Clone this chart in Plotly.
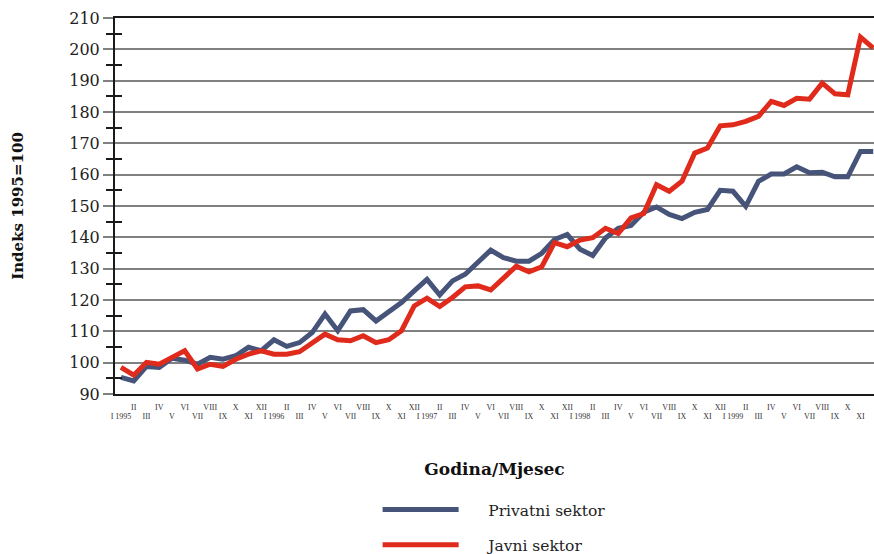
import plotly.graph_objects as go

# Mjeseci I 1995 - XII 1999
rimski = ["I", "II", "III", "IV", "V", "VI", "VII", "VIII", "IX", "X", "XI", "XII"]
godine = [1995, 1996, 1997, 1998, 1999]

mjeseci = list(range(60))
oznake = []
for g in godine:
    for r in rimski:
        oznake.append(f"I {g}" if r == "I" else r)

privatni = [95.3, 94.2, 98.8, 98.5, 101.4, 100.8, 99.5, 101.7, 101.1, 102.2,
            104.9, 103.8, 107.3, 105.2, 106.4, 109.6, 115.5, 110.2, 116.5, 116.9,
            113.3, 116.3, 119.2, 122.9, 126.6, 121.6, 126.1, 128.2, 131.9, 135.9,
            133.5, 132.4, 132.4, 134.9, 139.3, 140.9, 136.2, 134.2, 139.8, 142.9,
            143.8, 148.0, 149.7, 147.3, 146.0, 148.0, 148.9, 155.0, 154.7, 149.9,
            157.9, 160.2, 160.2, 162.5, 160.6, 160.8, 159.3, 159.3, 167.4, 167.4]

javni = [98.5, 96.0, 100.1, 99.5, 101.7, 103.8, 98.0, 99.5, 98.8, 101.1,
         102.7, 103.8, 102.7, 102.7, 103.5, 106.2, 109.1, 107.3, 107.0, 108.6,
         106.4, 107.3, 110.2, 118.1, 120.6, 117.9, 120.8, 124.2, 124.5, 123.2,
         127.1, 130.8, 129.0, 130.6, 138.3, 137.0, 139.1, 139.9, 142.9, 141.2,
         146.2, 147.6, 156.8, 154.7, 157.9, 166.9, 168.5, 175.6, 175.9, 177.0,
         178.6, 183.4, 182.1, 184.4, 184.1, 189.2, 185.8, 185.5, 203.9, 200.4]

FONT = "DejaVu Serif"
SITNO = "Liberation Serif"
TAMNA = "#1a1a1a"
SIVA = "#808080"
RAZMAK = "\u00a0" * 5

fig = go.Figure()

fig.add_trace(go.Scatter(
    x=mjeseci, y=privatni, mode="lines", name=RAZMAK + "Privatni sektor",
    line=dict(color="#475479", width=5), legendgroup="p"
))
# javni sektor na preklopljenim osima (x2/y2) da se vide parni mjeseci i unutarnje crtice
fig.add_trace(go.Scatter(
    x=mjeseci, y=javni, mode="lines", name=RAZMAK + "Javni sektor",
    line=dict(color="#e02a1c", width=5), legendgroup="j",
    xaxis="x2", yaxis="y2"
))

x_raspon = [-0.47, 59.06]

fig.update_layout(
    width=874, height=562,
    margin=dict(l=115, r=0, t=18, b=167),
    plot_bgcolor="white", paper_bgcolor="white",
    font=dict(family=FONT, color="#222222"),
    showlegend=True,
    legend=dict(
        x=0.346, y=-0.2626, xanchor="left", yanchor="top",
        font=dict(size=15.5, family=FONT, color="#222222"),
        itemwidth=76, tracegroupgap=12, traceorder="grouped",
        bgcolor="rgba(0,0,0,0)"
    ),
    # neparni mjeseci (donji red)
    xaxis=dict(
        range=x_raspon, tickmode="array",
        tickvals=mjeseci[0::2], ticktext=oznake[0::2],
        ticks="", tickfont=dict(size=8, family=SITNO, color="#333333"),
        ticklabelstandoff=13, automargin=False,
        showgrid=False, zeroline=False,
        showline=True, linecolor=TAMNA, linewidth=2, mirror=True,
        title=dict(text="<b>Godina/Mjesec</b>", font=dict(size=17, family=FONT, color="#111111"),
                   standoff=44),
    ),
    # parni mjeseci (gornji red)
    xaxis2=dict(
        overlaying="x", matches="x", side="bottom", anchor="y2", range=x_raspon,
        tickmode="array", tickvals=mjeseci[1::2], ticktext=oznake[1::2],
        ticks="", tickfont=dict(size=8, family=SITNO, color="#333333"),
        ticklabelstandoff=7, automargin=False,
        showgrid=False, zeroline=False, showline=False,
    ),
    yaxis=dict(
        range=[90, 210], dtick=10, tick0=90,
        ticks="outside", ticklen=10, tickcolor=SIVA, tickwidth=1.5,
        tickfont=dict(size=16, family=FONT, color="#222222"),
        showgrid=True, gridcolor=SIVA, gridwidth=1.5,
        zeroline=False, automargin=False,
        showline=True, linecolor=TAMNA, linewidth=2,
        minor=dict(dtick=5, tick0=90, ticks="outside", ticklen=7, tickcolor=TAMNA, tickwidth=1.5,
                   showgrid=False),
        title=dict(text="<b>Indeks 1995=100</b>", font=dict(size=15, family=FONT, color="#111111"),
                   standoff=42),
    ),
    # kratke crtice s unutarnje strane osi
    yaxis2=dict(
        overlaying="y", matches="y", anchor="x2", range=[90, 210], side="left",
        tickmode="array", tickvals=[95, 105, 115, 125, 135, 145, 155, 165, 175, 185, 195, 205],
        ticks="inside", ticklen=7, tickcolor=TAMNA, tickwidth=1.5,
        showticklabels=False, showgrid=False, zeroline=False, showline=False, automargin=False,
    ),
)

# bez ruba stranice, da slika stane točno u prozor
fig.write_html("out.html", config={"displayModeBar": False},
               post_script="document.body.style.margin='0';")
